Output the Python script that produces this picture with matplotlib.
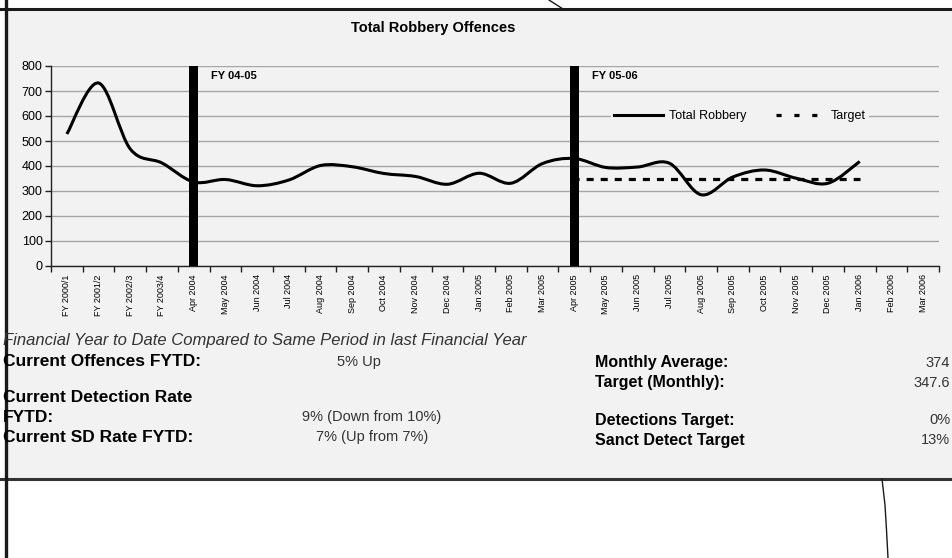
import matplotlib
matplotlib.use("Agg")
import matplotlib.pyplot as plt
from matplotlib.path import Path
from matplotlib.patches import PathPatch, Rectangle
from matplotlib.lines import Line2D
import numpy as np

# ---------------- data ----------------
categories = ["FY 2000/1", "FY 2001/2", "FY 2002/3", "FY 2003/4",
              "Apr 2004", "May 2004", "Jun 2004", "Jul 2004", "Aug 2004", "Sep 2004",
              "Oct 2004", "Nov 2004", "Dec 2004", "Jan 2005", "Feb 2005", "Mar 2005",
              "Apr 2005", "May 2005", "Jun 2005", "Jul 2005", "Aug 2005", "Sep 2005",
              "Oct 2005", "Nov 2005", "Dec 2005", "Jan 2006", "Feb 2006", "Mar 2006"]
total_robbery = [528, 732, 468, 412, 336, 346, 321, 344, 402, 397,
                 370, 358, 327, 371, 331, 410, 430, 394, 396, 411,
                 285, 356, 384, 351, 331, 418]
target_start = "Apr 2005"
target_values = [347] * 10
fy_markers = ["Apr 2004", "Apr 2005"]
fy_labels = ["FY 04-05", "FY 05-06"]
y_ticks = [0, 100, 200, 300, 400, 500, 600, 700, 800]

left_info = [("Current Offences FYTD:", "5% Up"),
             ("Current Detection Rate", ""),
             ("FYTD:", "9% (Down from 10%)"),
             ("Current SD Rate FYTD:", "7% (Up from 7%)")]
right_info = [("Monthly Average:", "374"),
              ("Target (Monthly):", "347.6"),
              ("Detections Target:", "0%"),
              ("Sanct Detect Target", "13%")]

# ---------------- figure ----------------
W, H = 952, 558
fig = plt.figure(figsize=(W / 100, H / 100), dpi=100)
fig.patch.set_facecolor("white")

def fx(x):
    return x / W

def fy(y):
    return 1 - y / H

narrow = ["Liberation Sans Narrow", "Liberation Sans", "DejaVu Sans"]
sans = ["Liberation Sans", "DejaVu Sans"]
bg = "#f2f2f2"

# grey panel and frame
panel = Rectangle((fx(6), fy(479)), fx(952) - fx(6), fy(9) - fy(479),
                  transform=fig.transFigure, facecolor=bg, edgecolor="none", zorder=-5)
fig.patches.append(panel)
fig.add_artist(Line2D([fx(0), fx(952)], [fy(9), fy(9)], color="#1a1a1a", lw=2.2, transform=fig.transFigure))
fig.add_artist(Line2D([fx(0), fx(952)], [fy(479), fy(479)], color="#333333", lw=2.2, transform=fig.transFigure))
fig.add_artist(Line2D([fx(5.5), fx(5.5)], [fy(0), fy(558)], color="#1a1a1a", lw=2.4, transform=fig.transFigure))
fig.add_artist(Line2D([fx(549), fx(563)], [fy(0), fy(9)], color="#1a1a1a", lw=1.0, transform=fig.transFigure))
fig.add_artist(Line2D([fx(882), fx(885), fx(886.5), fx(888)], [fy(479), fy(505), fy(530), fy(558)],
                      color="#1a1a1a", lw=1.0, transform=fig.transFigure))

# axes
ax = fig.add_axes([fx(51), fy(266), fx(939) - fx(51), fy(66) - fy(266)])
ax.set_zorder(1)
ax.set_facecolor(bg)
n = len(categories)
ax.set_xlim(-0.5, n - 0.5)
ax.set_ylim(0, 800)
for s in ["top", "right"]:
    ax.spines[s].set_visible(False)
for s in ["left", "bottom"]:
    ax.spines[s].set_color("#222222")
    ax.spines[s].set_linewidth(1.0)
ax.set_yticks(y_ticks)
ax.set_yticklabels([str(v) for v in y_ticks], fontfamily=narrow, fontsize=9)
ax.tick_params(axis="y", length=4, width=1, color="#222222", pad=2)
ax.set_xticks(np.arange(n))
ax.set_xticklabels(categories, rotation=90, fontfamily=narrow, fontsize=6.5)
ax.tick_params(axis="x", which="major", length=0, pad=6)
ax.set_xticks(np.arange(n + 1) - 0.5, minor=True)
ax.tick_params(axis="x", which="minor", length=4, width=1, color="#222222")
ax.grid(axis="y", color="#a6a6a6", lw=1.0)
ax.set_axisbelow(True)

# FY marker bars
idx = {c: i for i, c in enumerate(categories)}
ax.bar([idx[c] for c in fy_markers], [800, 800], width=0.28, color="black", zorder=2)
for c, lab in zip(fy_markers, fy_labels):
    ax.text(idx[c] + 0.55, 760, lab, fontfamily=narrow, fontsize=8, fontweight="bold",
            va="center", ha="left")

# smoothed line (Excel-style bezier) via Path
P = np.column_stack([np.arange(len(total_robbery)), total_robbery]).astype(float)
verts = [P[0]]
codes = [Path.MOVETO]
m = len(P)
for i in range(m - 1):
    p0 = P[i - 1] if i > 0 else P[i]
    p3 = P[i + 2] if i + 2 < m else P[i + 1]
    c1 = P[i] + (P[i + 1] - p0) / 6.0
    c2 = P[i + 1] - (p3 - P[i]) / 6.0
    verts += [c1, c2, P[i + 1]]
    codes += [Path.CURVE4] * 3
ax.add_patch(PathPatch(Path(verts, codes), fill=False, lw=2.2, edgecolor="black", zorder=3,
                       capstyle="butt", joinstyle="round"))

# target line
t0 = idx[target_start]
tx = np.arange(t0, t0 + len(target_values))
ax.plot(tx, target_values, color="black", lw=2.3, ls=(0.6, (2.2, 2.2)), zorder=3,
        dash_capstyle="butt")

# legend
h1 = Line2D([], [], color="black", lw=2.2)
h2 = Line2D([], [], color="black", lw=2.3, ls=(0, (1.6, 4.0)))
leg = ax.legend([h1, h2], ["Total Robbery", "Target"], ncol=2, loc="center",
                bbox_to_anchor=((740 - 51) / 888, (266 - 116) / 200),
                frameon=True, facecolor=bg, edgecolor="none", framealpha=1,
                prop={"family": narrow, "size": 9}, handlelength=3.9, columnspacing=2.3,
                handletextpad=0.5, borderpad=0.3, fancybox=False)

# title
fig.text(fx(433), fy(28), "Total Robbery Offences", fontfamily=sans, fontsize=10.5,
         fontweight="bold", ha="center", va="center")

# lower text block
fig.text(fx(3), fy(340), "Financial Year to Date Compared to Same Period in last Financial Year",
         fontfamily=sans, fontsize=12, style="italic", color="#333333", ha="left", va="center")
left_y = [362, 397, 417, 437]
for (lab, val), y in zip(left_info, left_y):
    fig.text(fx(3), fy(y), lab, fontfamily=sans, fontsize=12.5, fontweight="bold",
             ha="left", va="center")
    if val:
        fig.text(fx(372 if "(" in val else 359), fy(y), val, fontfamily=sans, fontsize=10.5,
                 color="#333333", ha="center", va="center")
right_y = [363, 383, 420, 440]
for (lab, val), y in zip(right_info, right_y):
    fig.text(fx(595), fy(y), lab, fontfamily=sans, fontsize=11.5, fontweight="bold",
             ha="left", va="center")
    fig.text(fx(950), fy(y), val, fontfamily=sans, fontsize=10.5, color="#333333",
             ha="right", va="center")

fig.savefig("out.png", dpi=100, facecolor="white")
